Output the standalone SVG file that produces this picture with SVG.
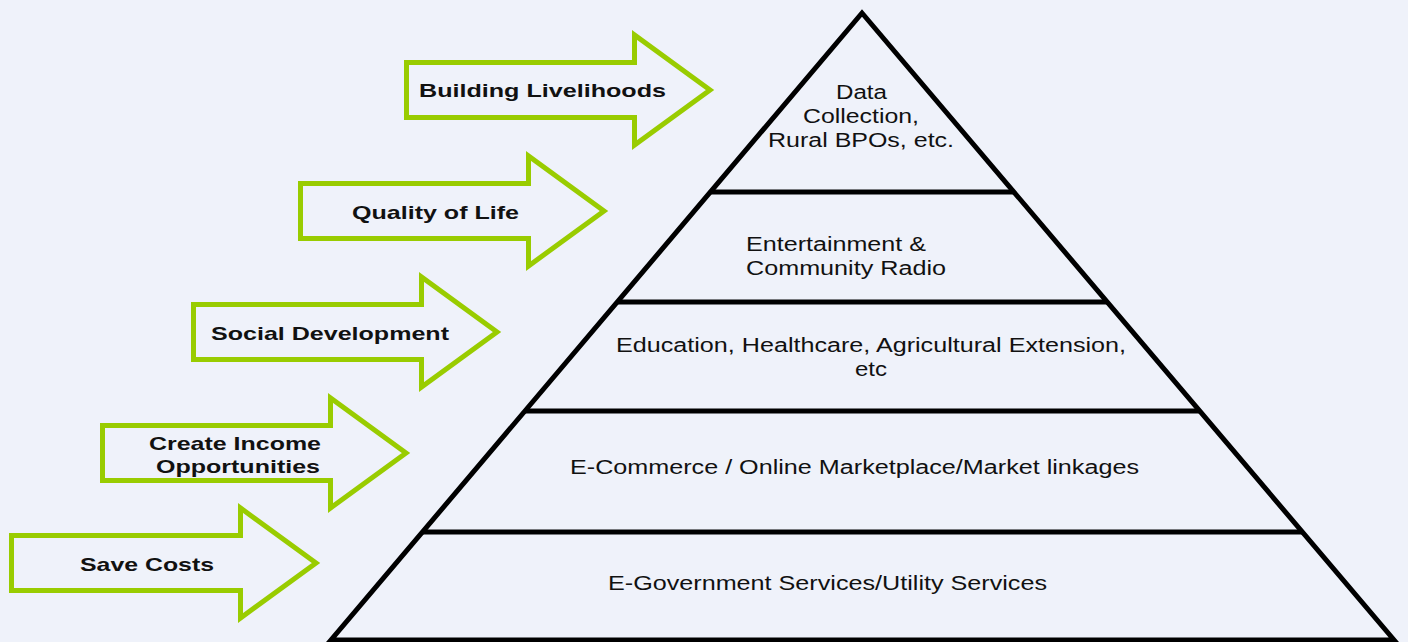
<svg xmlns="http://www.w3.org/2000/svg" width="1408" height="642" viewBox="0 0 1408 642">
<style>
.arrow{fill:none;stroke:#99cc00;stroke-width:5;stroke-miterlimit:10}
.lab{font-family:"Liberation Sans",Arial,sans-serif;font-weight:bold;font-size:19px;fill:#111;text-anchor:middle}
.txt{font-family:"Liberation Sans",Arial,sans-serif;font-size:20px;fill:#111;text-anchor:middle}
.pyr{fill:none;stroke:#000;stroke-width:5;stroke-linejoin:miter}
</style>
<rect width="1408" height="642" fill="#eff2fa"/>
<g id="pyramid">
<polygon class="pyr" points="862,13 331,640 1394,640"/>
<line class="pyr" x1="710" y1="192" x2="1014" y2="192"/>
<line class="pyr" x1="617" y1="302" x2="1107" y2="302"/>
<line class="pyr" x1="525" y1="411" x2="1199" y2="411"/>
<line class="pyr" x1="423" y1="532" x2="1302" y2="532"/>
</g>
<g id="level1">
<text class="txt" x="861.5" y="99" textLength="51" lengthAdjust="spacingAndGlyphs">Data</text>
<text class="txt" x="861" y="123" textLength="116" lengthAdjust="spacingAndGlyphs">Collection,</text>
<text class="txt" x="861" y="147" textLength="186" lengthAdjust="spacingAndGlyphs">Rural BPOs, etc.</text>
</g>
<g id="level2">
<text class="txt" x="746" y="251" style="text-anchor:start" textLength="180" lengthAdjust="spacingAndGlyphs">Entertainment &amp;</text>
<text class="txt" x="746" y="275" style="text-anchor:start" textLength="200" lengthAdjust="spacingAndGlyphs">Community Radio</text>
</g>
<g id="level3">
<text class="txt" x="871" y="352" textLength="510" lengthAdjust="spacingAndGlyphs">Education, Healthcare, Agricultural Extension,</text>
<text class="txt" x="871" y="376" textLength="32" lengthAdjust="spacingAndGlyphs">etc</text>
</g>
<g id="level4">
<text class="txt" x="854.5" y="474" textLength="569" lengthAdjust="spacingAndGlyphs">E-Commerce / Online Marketplace/Market linkages</text>
</g>
<g id="level5">
<text class="txt" x="827.5" y="590" textLength="439" lengthAdjust="spacingAndGlyphs">E-Government Services/Utility Services</text>
</g>
<g id="connectors">
<g id="arrow-building">
<path class="arrow" d="M406.5,62.5 H634.5 V35 L710,90 L634.5,145 V117.5 H406.5 Z"/>
<text class="lab" x="542.5" y="97" textLength="247" lengthAdjust="spacingAndGlyphs">Building Livelihoods</text>
</g>
<g id="arrow-quality">
<path class="arrow" d="M300.5,183.5 H528.5 V156 L604,211 L528.5,266 V238.5 H300.5 Z"/>
<text class="lab" x="435.5" y="219" textLength="167" lengthAdjust="spacingAndGlyphs">Quality of Life</text>
</g>
<g id="arrow-social">
<path class="arrow" d="M193.5,304.5 H421.5 V277 L497,332 L421.5,387 V359.5 H193.5 Z"/>
<text class="lab" x="330" y="340" textLength="238" lengthAdjust="spacingAndGlyphs">Social Development</text>
</g>
<g id="arrow-income">
<path class="arrow" d="M102.5,425.5 H330.5 V398 L406,453 L330.5,508 V480.5 H102.5 Z"/>
<text class="lab" x="235" y="450" textLength="172" lengthAdjust="spacingAndGlyphs">Create Income</text>
<text class="lab" x="238" y="473" textLength="164" lengthAdjust="spacingAndGlyphs">Opportunities</text>
</g>
<g id="arrow-save">
<path class="arrow" d="M11.5,535.5 H240.5 V508 L316,563 L240.5,618 V590.5 H11.5 Z"/>
<text class="lab" x="147" y="571" textLength="134" lengthAdjust="spacingAndGlyphs">Save Costs</text>
</g>
</g>
</svg>
